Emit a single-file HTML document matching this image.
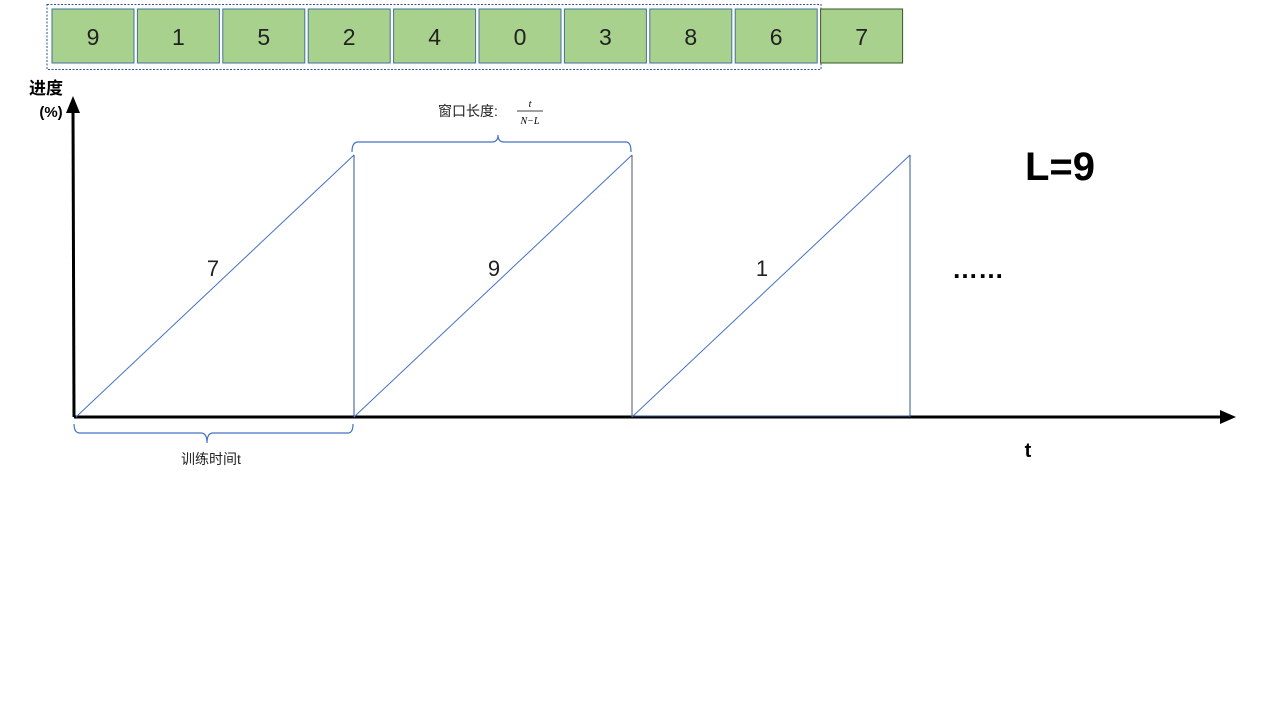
<!DOCTYPE html>
<html><head><meta charset="utf-8"><style>
html,body{margin:0;padding:0;background:#fff;}
svg{display:block;font-family:"Liberation Sans","Noto Sans CJK SC",sans-serif;}
</style></head><body>
<svg width="1280" height="720" viewBox="0 0 1280 720">
<rect x="47" y="4.5" width="774" height="65" fill="none" stroke="#2f5597" stroke-width="1" stroke-dasharray="2,1.5"/>
<g id="boxes"></g>
<text x="46" y="94" font-size="17" font-weight="bold" text-anchor="middle">进度</text>
<text x="51" y="117" font-size="15" font-weight="bold" text-anchor="middle">(%)</text>
<line x1="74" y1="417" x2="73" y2="110" stroke="#000" stroke-width="3"/>
<polygon points="73,96 66,113 80,113" fill="#000"/>
<line x1="74" y1="417" x2="1222" y2="417" stroke="#000" stroke-width="3"/>
<polygon points="1236,417 1220,410 1220,424" fill="#000"/>
<text x="1028" y="457" font-size="20" font-weight="bold" text-anchor="middle">t</text>
<g id="saw"></g>
<line x1="631" y1="416" x2="910" y2="416" stroke="#2f5597" stroke-width="1"/>
<path d="M352,152 Q352,142 358,142 L492,142 Q498,142 498,135 Q498,142 504,142 L626,142 Q631,142 631,152" fill="none" stroke="#4472c4" stroke-width="1.2"/>
<text x="468" y="116" font-size="14" text-anchor="middle" fill="#222">窗口长度:</text>
<text x="530" y="107" font-size="10" font-style="italic" text-anchor="middle" font-family="Liberation Serif, serif">t</text>
<line x1="517" y1="111" x2="543" y2="111" stroke="#000" stroke-width="0.8"/>
<text x="530" y="124" font-size="10" font-style="italic" text-anchor="middle" font-family="Liberation Serif, serif">N−L</text>
<path d="M74,424 Q74,433 80,433 L201,433 Q207,433 207,443 Q207,433 213,433 L348,433 Q353,433 353,424" fill="none" stroke="#4472c4" stroke-width="1.2"/>
<text x="211" y="464" font-size="14" text-anchor="middle" fill="#222">训练时间t</text>
<text x="1060" y="180" font-size="40" font-weight="bold" text-anchor="middle">L=9</text>
<text x="978" y="278" font-size="26" font-weight="bold" text-anchor="middle">……</text>
</svg>
<script>
const boxLabels=[9,1,5,2,4,0,3,8,6,7];
const segmentLabels=[7,9,1];
const segmentStarts=[0,1,2];
const progressMax=[100,100,100];
const NS="http://www.w3.org/2000/svg";
const labelOffsets=[137,140,130];
function mk(t,a,p){const e=document.createElementNS(NS,t);for(const k in a)e.setAttribute(k,a[k]);p.appendChild(e);return e;}
const bx=document.getElementById('boxes');
boxLabels.forEach((v,i)=>{
  const x=52+i*85.4;
  const r=mk('rect',{x:x,y:9,width:82,height:54,fill:'#a9d18e',stroke:'#41719c','stroke-width':1},bx);
  
  
  if(i===9)r.setAttribute('stroke','#385723');
  const t=mk('text',{x:x+41,y:45,'font-size':23,'text-anchor':'middle',fill:'#222'},bx);
  
  
  t.textContent=v;
});
const xs=s=>76+s*278;
const ys=v=>417-v*2.62;
const sg=document.getElementById('saw');
segmentStarts.forEach((s,i)=>{
  const x0=xs(s),x1=xs(s+1);
  const l=mk('line',{x1:x0,y1:ys(0),x2:x1,y2:ys(progressMax[i]),stroke:'#4472c4','stroke-width':1},sg);
  
  
  const v=mk('line',{x1:x1,y1:ys(progressMax[i]),x2:x1,y2:ys(0),stroke:i===1?'#555':'#2f5597','stroke-width':1},sg);
  
  
  const t=mk('text',{x:x0+labelOffsets[i],y:276,'font-size':22,'text-anchor':'middle',fill:'#222'},sg);
  
  
  t.textContent=segmentLabels[i];
});
</script>
</body></html>
